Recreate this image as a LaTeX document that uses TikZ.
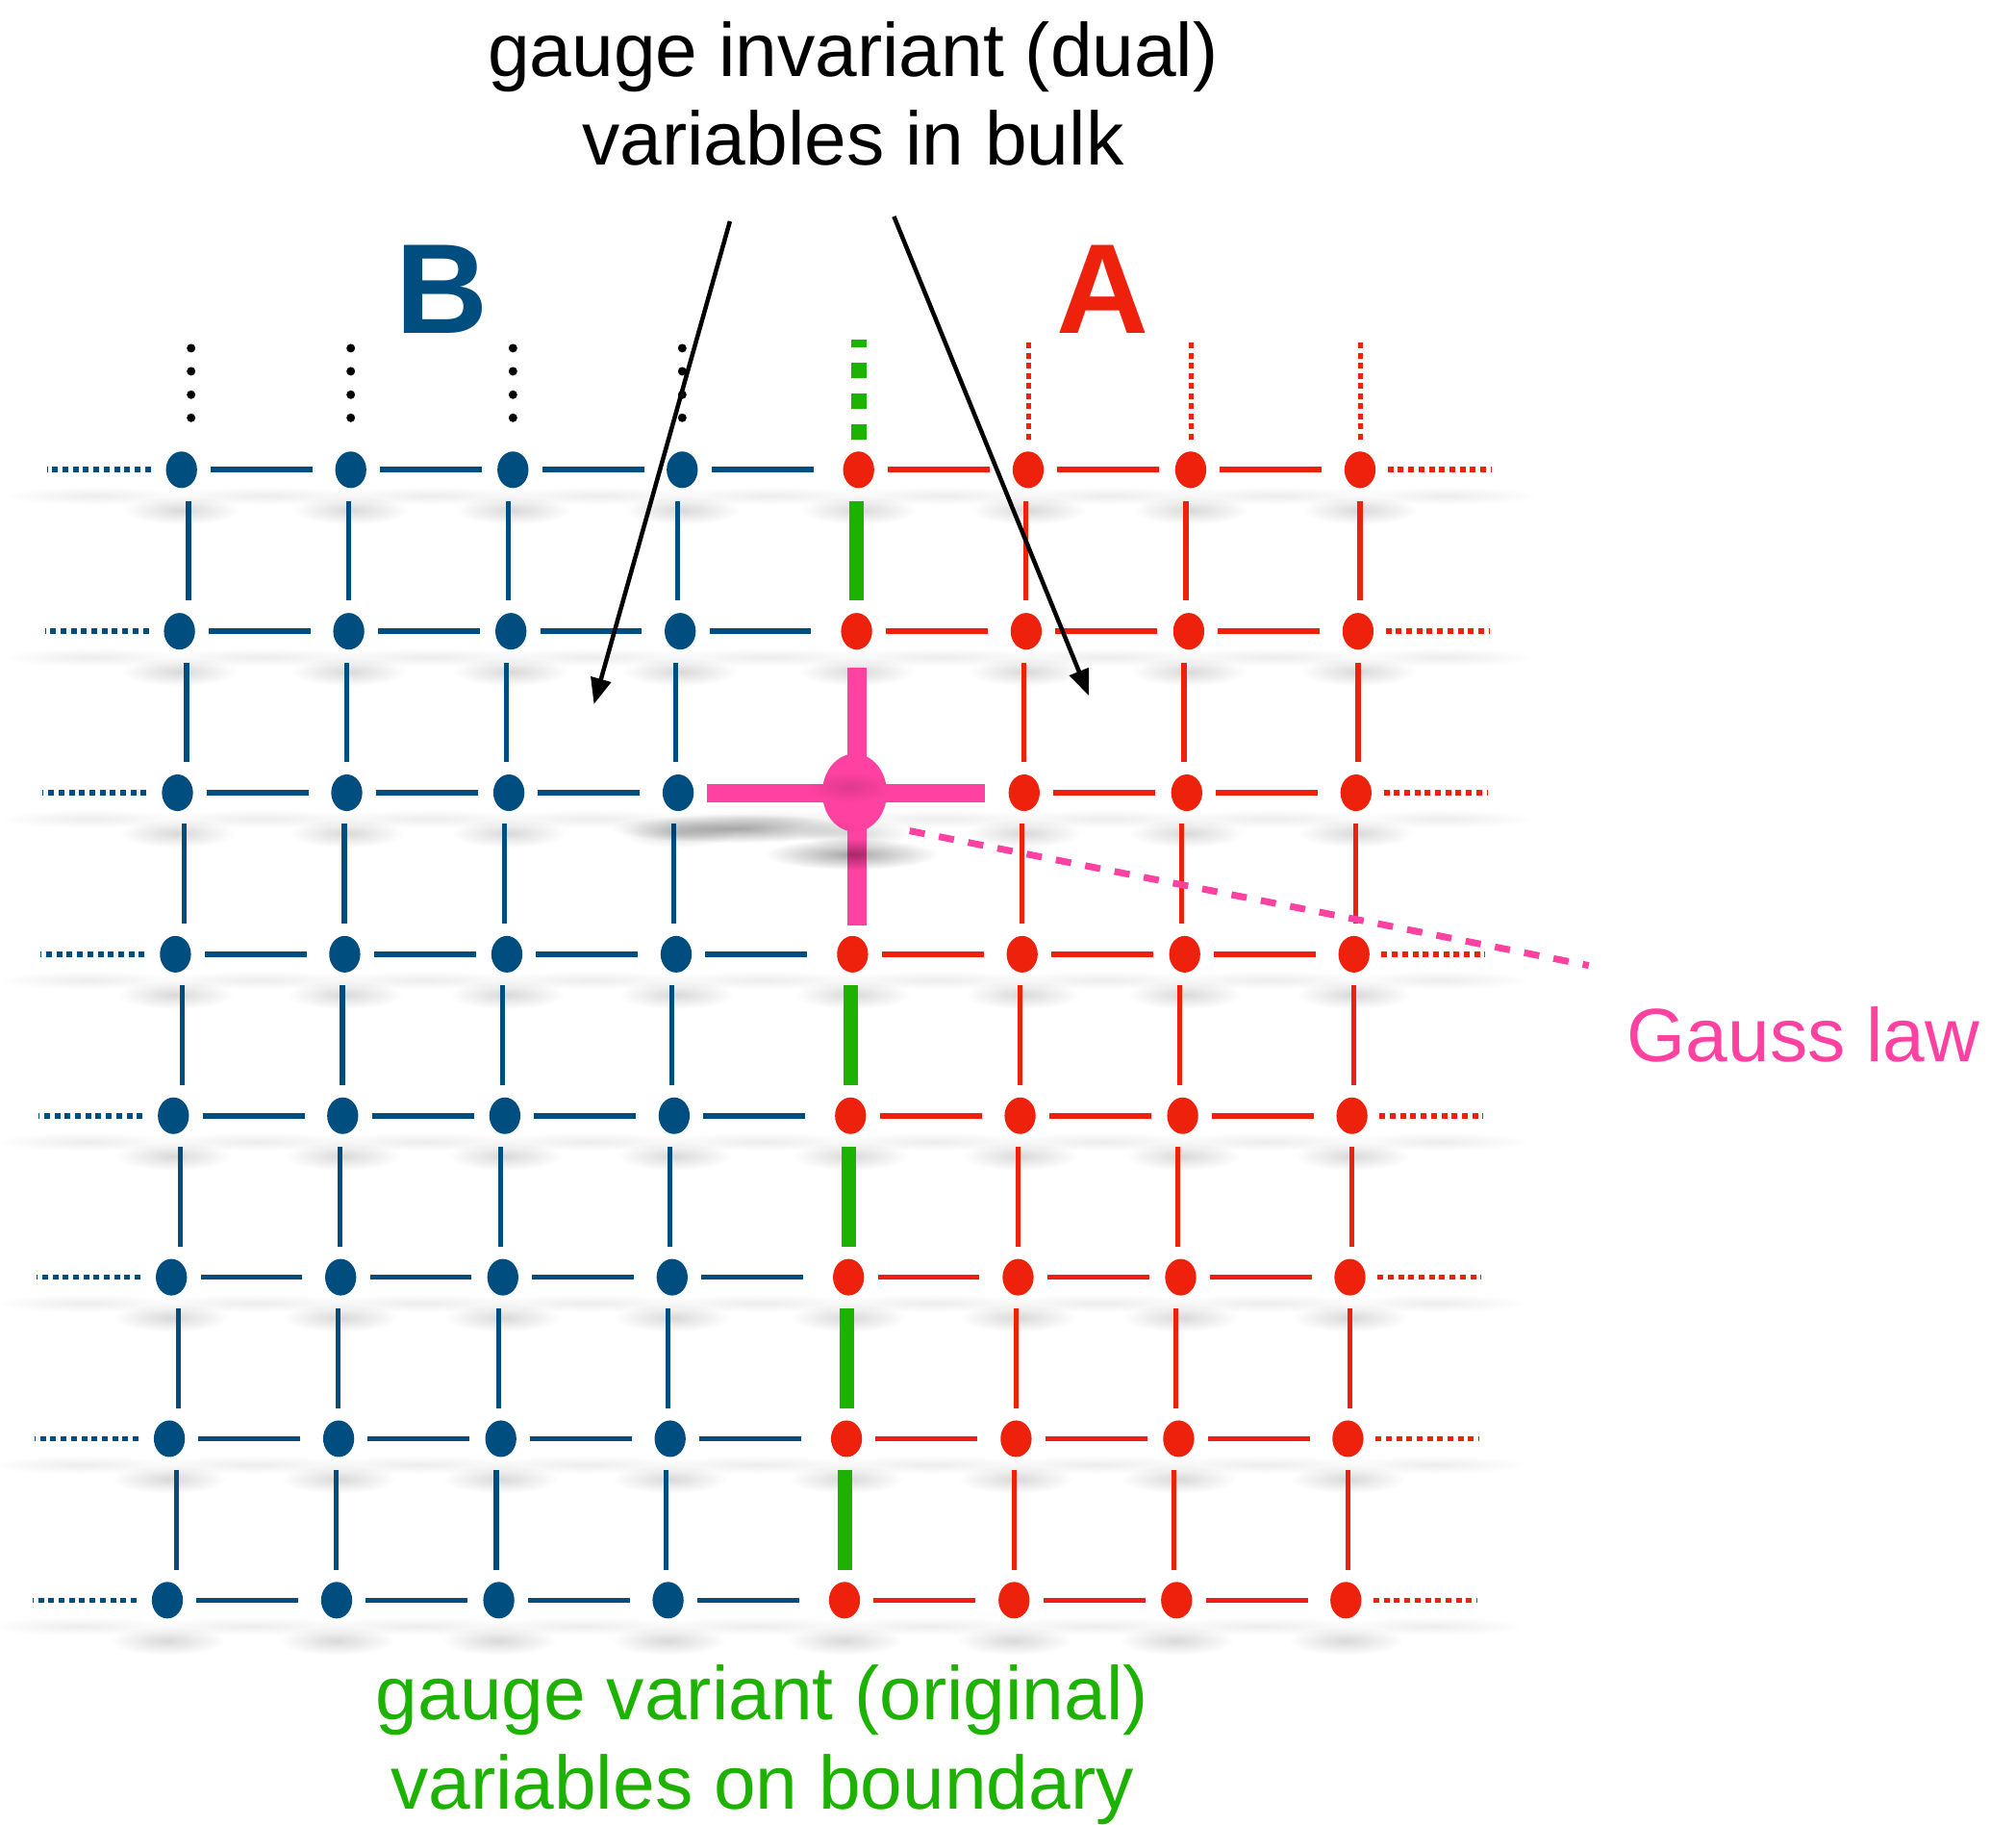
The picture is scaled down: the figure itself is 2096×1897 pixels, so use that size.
\documentclass[tikz,border=0pt]{standalone}
\usepackage{fontspec}
\setmainfont{Liberation Sans}
\usetikzlibrary{shapes.geometric,arrows.meta,fadings,calc}
\definecolor{kblue}{HTML}{004D80}
\definecolor{kred}{HTML}{EE220C}
\definecolor{kgreen}{HTML}{1DB100}
\definecolor{kpink}{HTML}{FF42A1}
\tikzfading[name=softblob, inner color=transparent!0, outer color=transparent!100]
\begin{document}
\begin{tikzpicture}[x=0.01cm,y=-0.01cm,
  site/.style={ellipse,inner sep=0pt,minimum width=0.323cm,minimum height=0.38cm,draw=none},
  bsite/.style={site,fill=kblue},
  rsite/.style={site,fill=kred},
  psite/.style={ellipse,inner sep=0pt,minimum width=0.67cm,minimum height=0.81cm,fill=kpink,draw=none},
  hlink/.style={line width=0.056cm,shorten <=0.135cm},
  vlink/.style={line width=0.052cm,shorten <=0.127cm,shorten >=0.12cm},
  glink/.style={vlink,line width=0.15cm,draw=kgreen},
  ext/.style={line width=0.056cm,dash pattern=on 0.06cm off 0.047cm},
  topdots/.style={line width=0.05cm,dash pattern=on 0.06cm off 0.045cm,draw=kred},
  shad/.style={black,opacity=0.15,path fading=softblob},
  streak/.style={black,opacity=0.07,path fading=softblob},
  txt/.style={anchor=base,inner sep=0pt,font=\fontsize{22.33pt}{26pt}\selectfont},
  big/.style={anchor=base,inner sep=0pt,font=\fontsize{37.8pt}{40pt}\selectfont\bfseries},
  pointer/.style={line width=0.045cm,-{Triangle[length=0.27cm,width=0.21cm]}},
  gaussline/.style={kpink,line width=0.07cm,dash pattern=on 0.16cm off 0.15cm}
]
\fill[white] (0,0) rectangle (2096,1897);
\useasboundingbox (0,0) rectangle (2096,1897);
\def\colX{188.7,364.7,533.3,709.3,892.7,1069,1238,1414}
% lattice positions
\foreach \r in {0,...,7}{
  \foreach \X [count=\c from 0] in \colX {
    \pgfmathsetmacro\xx{\X-2.1*\r}
    \pgfmathsetmacro\yy{488.3+167.86*\r}
    \coordinate (p-\c-\r) at (\xx,\yy);
  }
}
% soft shadows
\foreach \r in {0,...,7}{
  \foreach \c in {0,...,7}{
    \fill[shad] ([yshift=-0.42cm]p-\c-\r) ellipse [x radius=0.6cm,y radius=0.15cm];
  }
  \foreach \c [evaluate=\c as \n using int(\c+1)] in {0,...,6}{
    \fill[streak] ($(p-\c-\r)!0.5!(p-\n-\r)+(0,27)$) ellipse [x radius=1.1cm,y radius=0.1cm];
  }
  \fill[streak] ($(p-0-\r)+(-90,27)$) ellipse [x radius=0.95cm,y radius=0.1cm];
  \fill[streak] ($(p-7-\r)+(90,27)$) ellipse [x radius=0.95cm,y radius=0.1cm];
}
% sites
\foreach \r in {0,...,7}{
  \foreach \c in {0,...,7}{
    \ifnum\c<4
      \node[bsite] (n-\c-\r) at (p-\c-\r) {};
    \else
      \node[rsite] (n-\c-\r) at (p-\c-\r) {};
    \fi
  }
}
% horizontal links (fixed length, starting 29.5 px right of a site)
\foreach \r in {0,...,7}{
  \foreach \c/\n/\sg in {0/1/0.2285,1/2/0.1545,2/3/0.2285,3/4/0.3025,4/5/0.2315,5/6/0.1585,6/7/0.2285}{
    \pgfmathtruncatemacro\skip{(\r==2)&&(\c==3||\c==4)}
    \ifnum\skip=0
      \ifnum\c<4
        \draw[hlink,kblue,shorten >=\sg cm] (n-\c-\r.east) -- (n-\n-\r.west);
      \else
        \draw[hlink,kred,shorten >=\sg cm] (n-\c-\r.east) -- (n-\n-\r.west);
      \fi
    \fi
  }
  \draw[ext,kblue] ([xshift=-0.32cm]n-0-\r.center) -- ([xshift=-1.4cm]n-0-\r.center);
  \draw[ext,kred] ([xshift=0.287cm]n-7-\r.center) -- ([xshift=1.367cm]n-7-\r.center);
}
% vertical links (exactly vertical, slightly offset from the site centres)
\foreach \r [evaluate=\r as \s using int(\r+1)] in {0,...,6}{
  \foreach \c/\dxc in {0/0.073,1/-0.025,2/-0.047,3/-0.046,4/-0.02,5/-0.023,6/-0.05,7/0}{
    \ifnum\c<4
      \draw[vlink,kblue] ([xshift=\dxc cm]n-\c-\r.south) -- ([xshift=\dxc cm]n-\c-\r.south |- n-\c-\s.north);
    \else
      \ifnum\c>4
        \draw[vlink,kred] ([xshift=\dxc cm]n-\c-\r.south) -- ([xshift=\dxc cm]n-\c-\r.south |- n-\c-\s.north);
      \else
        \pgfmathtruncatemacro\skip{(\r==1)||(\r==2)}
        \ifnum\skip=0
          \draw[glink] ([xshift=\dxc cm]n-\c-\r.south) -- ([xshift=\dxc cm]n-\c-\r.south |- n-\c-\s.north);
        \fi
      \fi
    \fi
  }
}
% continuation above the top row
\foreach \c/\dx in {0/0.1,1/0,2/0,3/0}{
  \foreach \h in {0.54,0.78,1.023,1.263}{
    \fill[black] ([xshift=\dx cm,yshift=\h cm]n-\c-0.center) circle (0.045cm);
  }
}
\draw[kgreen,line width=0.16cm,dash pattern=on 0.16cm off 0.16cm]
  ([xshift=0.005cm,yshift=0.31cm]n-4-0.center) -- ([xshift=0.005cm,yshift=1.35cm]n-4-0.center);
\foreach \c in {5,6,7}{
  \draw[topdots] ([yshift=0.315cm]n-\c-0.center) -- ([yshift=1.325cm]n-\c-0.center);
}
% Gauss law cross
\draw[kpink,line width=0.19cm,shorten <=0.135cm,shorten >=0.235cm] (n-3-2) -- (n-5-2);
\draw[kpink,line width=0.2cm,shorten <=0.184cm,shorten >=0.10cm] (n-4-1.south) -- (n-4-1.south |- n-4-3.north);
\node[psite] (n-4-2) at (p-4-2) {};
\fill[black,opacity=0.35,path fading=softblob] (765,861) ellipse [x radius=1.3cm,y radius=0.15cm];
\fill[black,opacity=0.35,path fading=softblob] (885,888) ellipse [x radius=0.9cm,y radius=0.16cm];
\fill[black,opacity=0.12,path fading=softblob] (882,818) ellipse [x radius=0.45cm,y radius=0.16cm];
\coordinate (g0) at (945.7,863.6);
\coordinate (g1) at (1651.8,1003.6);
\draw[gaussline] (g0) -- (g1);
% texts
\node[txt] (inv1) at (887,80) {gauge invariant (dual)};
\node[txt] (inv2) at (887,172) {variables in bulk};
\node[txt,text=kgreen] (var1) at (792.5,1787) {gauge variant (original)};
\node[txt,text=kgreen] (var2) at (792.5,1880) {variables on boundary};
\node[txt,text=kpink] (gauss) at (1875,1103) {Gauss law};
\node[big,text=kblue] (labB) at (459,347) {B};
\node[big,text=kred] (labA) at (1146,347) {A};
% pointers
\coordinate (aL0) at (758.9,230);
\coordinate (aL1) at (617.5,732);
\coordinate (aR0) at (929.4,225);
\coordinate (aR1) at (1132,723);
\draw[pointer] (aL0) -- (aL1);
\draw[pointer] (aR0) -- (aR1);
\end{tikzpicture}
\end{document}
